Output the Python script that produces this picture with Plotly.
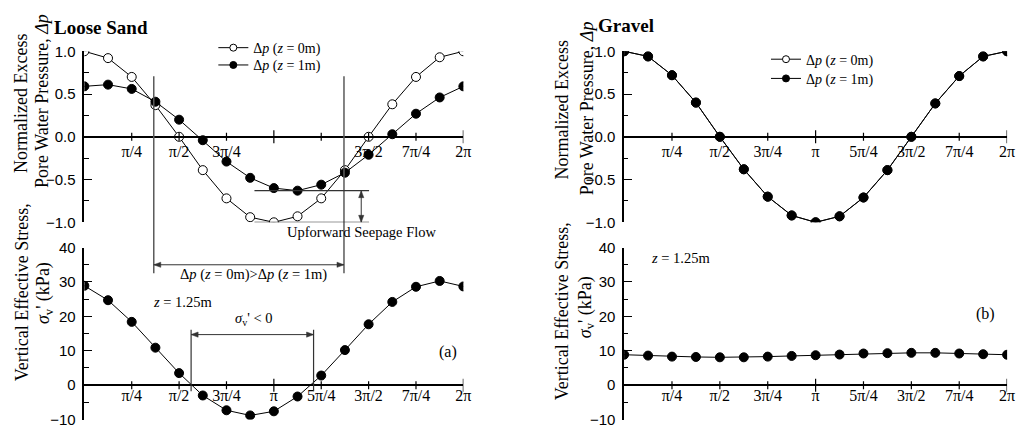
import math
import plotly.graph_objects as go

W, H = 1029, 434
PI = math.pi

# Sampling phase of the wave, in multiples of pi/8
phase_eighths = [0, 1, 2, 3, 4, 5, 6, 7, 8, 9, 10, 11, 12, 13, 14, 15, 16]

# Loose sand: normalized excess pore water pressure at z = 0 m and z = 1 m
ls_dp_z0 = [1.00, 0.92, 0.70, 0.37, 0.00, -0.39, -0.72, -0.94, -1.00, -0.93, -0.72, -0.39,
            0.00, 0.38, 0.70, 0.93, 1.00]
ls_dp_z1 = [0.59, 0.61, 0.56, 0.41, 0.20, -0.04, -0.29, -0.48, -0.60, -0.63, -0.56, -0.42,
            -0.21, 0.03, 0.27, 0.46, 0.59]
# Loose sand: vertical effective stress at z = 1.25 m (kPa)
ls_sigma = [28.9, 24.7, 18.4, 10.9, 3.5, -3.0, -7.3, -8.8, -7.6, -3.3, 2.8, 10.2,
            17.7, 24.2, 28.6, 30.3, 28.7]

# Gravel: normalized excess pore water pressure at z = 0 m and z = 1 m
gr_dp_z0 = [1.00, 0.94, 0.72, 0.40, 0.00, -0.38, -0.70, -0.92, -1.00, -0.93, -0.71, -0.39,
            0.00, 0.39, 0.71, 0.94, 1.00]
gr_dp_z1 = [1.00, 0.94, 0.72, 0.40, 0.00, -0.38, -0.70, -0.92, -1.00, -0.93, -0.71, -0.39,
            0.00, 0.39, 0.71, 0.94, 1.00]
# Gravel: vertical effective stress at z = 1.25 m (kPa)
gr_sigma = [8.85, 8.6, 8.3, 8.2, 8.1, 8.1, 8.3, 8.5, 8.7, 8.9, 9.2, 9.3,
            9.4, 9.4, 9.2, 9.0, 8.85]

# Phase ticks, in multiples of pi/4
tick_quarters = [1, 2, 3, 4, 5, 6, 7, 8]
tick_labels = ["π/4", "π/2", "3π/4", "π", "5π/4", "3π/2", "7π/4", "2π"]
# The upper loose-sand panel carries no label at π and 5π/4
top_left_quarters = [1, 2, 3, 6, 7, 8]
top_left_labels = ["π/4", "π/2", "3π/4", "3π/2", "7π/4", "2π"]

# Phase of the crossing points and of the sigma' < 0 window (rad)
cross_phase = [1.151, 4.304]
neg_sigma_phase = [1.77, 3.80]

SERIF = "Liberation Serif"
SANS = "Liberation Sans"

phase = [k * PI / 8 for k in phase_eighths]
tick_vals = [q * PI / 4 for q in tick_quarters]


def fx(px):
    return px / W


def fy(py):
    return 1 - py / H


LEFT_X = [fx(85), fx(467)]
RIGHT_X = [fx(629), fx(1015)]
TOP_Y = [fy(222), fy(44)]
BOT_Y = [fy(427.3), fy(248.3)]

top_zero = TOP_Y[0] + 0.5 * (TOP_Y[1] - TOP_Y[0])
bot_zero = BOT_Y[0] + 0.2 * (BOT_Y[1] - BOT_Y[0])


def x_axis(domain, pos, quarters, labels, standoff):
    return dict(domain=domain, range=[0, 2 * PI], anchor="free", position=pos,
                showline=True, linewidth=1.5, linecolor="black", ticks="",
                tickvals=[q * PI / 4 for q in quarters], ticktext=labels,
                ticklabelstandoff=standoff,
                tickfont=dict(family=SERIF, size=16, color="black"),
                showgrid=False, zeroline=False)


def y_axis(domain, anchor, rng, dtick, minor_dtick, fmt):
    return dict(domain=domain, anchor=anchor, range=rng, showline=True, linewidth=1.5,
                linecolor="black", ticks="inside", ticklen=8, tickwidth=1.2,
                tickcolor="black", tick0=0, dtick=dtick,
                minor=dict(dtick=minor_dtick, tick0=0, ticks="inside", ticklen=4.5,
                           tickwidth=1.2, tickcolor="black", showgrid=False),
                tickformat=fmt, tickfont=dict(family=SANS, size=15, color="black"),
                ticklabelstandoff=4, showgrid=False, zeroline=False)


def series(y, xa, ya, filled):
    return go.Scatter(x=phase, y=y, xaxis=xa, yaxis=ya, mode="lines+markers",
                      line=dict(color="black", width=1),
                      marker=dict(symbol="circle", size=9,
                                  color="black" if filled else "white",
                                  line=dict(color="black", width=1)),
                      showlegend=False, hoverinfo="skip")


def legend_entry(name, filled, xa, ya, legend):
    return go.Scatter(x=[None], y=[None], xaxis=xa, yaxis=ya, mode="lines+markers",
                      name=name, legend=legend,
                      line=dict(color="black", width=1),
                      marker=dict(symbol="circle", size=7,
                                  color="black" if filled else "white",
                                  line=dict(color="black", width=1)),
                      showlegend=True)


name_z0 = "Δ<i>p</i> (<i>z</i> = 0m)"
name_z1 = "Δ<i>p</i> (<i>z</i> = 1m)"

fig = go.Figure()
fig.add_trace(series(ls_dp_z0, "x", "y", False))
fig.add_trace(series(ls_dp_z1, "x", "y", True))
fig.add_trace(series(ls_sigma, "x2", "y2", True))
fig.add_trace(series(gr_dp_z0, "x3", "y3", False))
fig.add_trace(series(gr_dp_z1, "x3", "y3", True))
fig.add_trace(series(gr_sigma, "x4", "y4", True))
fig.add_trace(legend_entry(name_z0, False, "x", "y", "legend"))
fig.add_trace(legend_entry(name_z1, True, "x", "y", "legend2"))
fig.add_trace(legend_entry(name_z0, False, "x3", "y3", "legend3"))
fig.add_trace(legend_entry(name_z1, True, "x3", "y3", "legend4"))

shapes = []
# Cross ticks on the zero-line phase axes
for xa, ya in [("x", "y"), ("x2", "y2"), ("x3", "y3"), ("x4", "y4")]:
    for q, v in zip(tick_quarters, tick_vals):
        half = 6.5 if q % 4 == 0 else 4
        shapes.append(dict(type="line", xref=xa, yref=ya, ysizemode="pixel", yanchor=0,
                           x0=v, x1=v, y0=-half, y1=half,
                           line=dict(color="black", width=1.2)))

GUIDE = "#5a5a5a"
DARK = "#333333"
# Vertical guides through the crossing points of the two pressure curves
for xv in cross_phase:
    shapes.append(dict(type="line", xref="x", yref="paper", x0=xv, x1=xv,
                       y0=fy(275), y1=fy(70), line=dict(color=GUIDE, width=1.5)))
# Horizontal guides at the troughs of the two pressure curves
for yv in [min(ls_dp_z1), min(ls_dp_z0)]:
    shapes.append(dict(type="line", xref="x", yref="y", x0=2.82, x1=4.72, y0=yv, y1=yv,
                       line=dict(color=DARK, width=1.2)))
# Vertical guides bounding the negative effective stress window
for xv in neg_sigma_phase:
    shapes.append(dict(type="line", xref="x2", yref="y2", x0=xv, x1=xv, y0=-1.8, y1=16.1,
                       line=dict(color=DARK, width=1.2)))

# Arrowhead outlines in pixels, tip at the anchor point
HEAD = {
    "right": "M0,0 L-7,2.6 L-7,-2.6 Z",
    "left": "M0,0 L7,2.6 L7,-2.6 Z",
    "up": "M0,0 L-2.6,-7 L2.6,-7 Z",
    "down": "M0,0 L-2.6,7 L2.6,7 Z",
}


def head(x, y, xref, yref, direction):
    return dict(type="path", xref=xref, yref=yref, xsizemode="pixel", ysizemode="pixel",
                xanchor=x, yanchor=y, path=HEAD[direction], fillcolor=DARK,
                line=dict(color=DARK, width=0.5))


def double_arrow(x0, y0, x1, y1, xref, yref):
    out = [dict(type="line", xref=xref, yref=yref, x0=x0, x1=x1, y0=y0, y1=y1,
                line=dict(color=DARK, width=1))]
    if y0 == y1:
        out += [head(x0, y0, xref, yref, "left"), head(x1, y1, xref, yref, "right")]
    else:
        out += [head(x0, y0, xref, yref, "down"), head(x1, y1, xref, yref, "up")]
    return out


# Span between the crossing points
shapes += double_arrow(cross_phase[0], 35, cross_phase[1], 35, "x2", "y2")
# Gap between the two pressure troughs
shapes += double_arrow(4.59, min(ls_dp_z0), 4.59, min(ls_dp_z1), "x", "y")
# Window of negative effective stress
shapes += double_arrow(neg_sigma_phase[0], 14.7, neg_sigma_phase[1], 14.7, "x2", "y2")


def label(text, px, py, size, angle=0, bold=False, family=SERIF, xanchor="center"):
    if bold:
        text = "<b>" + text + "</b>"
    return dict(text=text, x=fx(px), y=fy(py), xref="paper", yref="paper",
                xanchor=xanchor, yanchor="middle", textangle=angle, showarrow=False,
                font=dict(family=family, size=size, color="black"))


annotations = [
    label("Loose Sand", 52, 19, 19, bold=True, xanchor="left"),
    label("Gravel", 601, 17, 19, bold=True, xanchor="left"),
    label("Normalized Excess", 21, 98, 18, angle=-90),
    label("Pore Water Pressure, <i>Δp</i>", 43, 96, 18, angle=-90),
    label("Vertical Effective Stress,", 23, 295, 18, angle=-90),
    label("<i>σ</i><sub>v</sub>' (kPa)", 45, 296, 18, angle=-90),
    label("Normalized Excess", 566, 105, 18, angle=-90),
    label("Pore Water Pressure, <i>Δp</i>", 592, 103, 18, angle=-90),
    label("Vertical Effective Stress,", 566, 315, 18, angle=-90),
    label("<i>σ</i><sub>v</sub>' (kPa)", 591, 310, 18, angle=-90),
    label("Upforward Seepage Flow", 365, 232, 14.5),
    label("Δ<i>p</i> (<i>z</i> = 0m)>Δ<i>p</i> (<i>z</i> = 1m)", 255, 276, 14.5),
    label("<i>z</i> = 1.25m", 184, 305, 14.5),
    label("<i>σ</i><sub>v</sub>' < 0", 256, 323, 14.5),
    label("(a)", 452, 357, 16),
    label("<i>z</i> = 1.25m", 686, 259, 14.5),
    label("(b)", 993, 317, 16),
]

legend_style = dict(xanchor="left", yanchor="top", bgcolor="rgba(0,0,0,0)",
                    borderwidth=0, font=dict(family=SERIF, size=14, color="black"),
                    tracegroupgap=0, itemwidth=30)

fig.update_layout(
    width=W, height=H,
    margin=dict(l=0, r=0, t=0, b=0),
    paper_bgcolor="white", plot_bgcolor="white",
    xaxis=x_axis(LEFT_X, top_zero, top_left_quarters, top_left_labels, 0),
    yaxis=y_axis(TOP_Y, "x", [-1, 1], 0.5, 0.25, ".1f"),
    xaxis2=x_axis(LEFT_X, bot_zero, tick_quarters, tick_labels, -4),
    yaxis2=y_axis(BOT_Y, "x2", [-10, 40], 10, 5, "d"),
    xaxis3=x_axis(RIGHT_X, top_zero, tick_quarters, tick_labels, 0),
    yaxis3=y_axis(TOP_Y, "x3", [-1, 1], 0.5, 0.25, ".1f"),
    xaxis4=x_axis(RIGHT_X, bot_zero, tick_quarters, tick_labels, -4),
    yaxis4=y_axis(BOT_Y, "x4", [-10, 40], 10, 5, "d"),
    legend=dict(x=fx(215), y=fy(24), **legend_style),
    legend2=dict(x=fx(215), y=fy(42), **legend_style),
    legend3=dict(x=fx(772), y=fy(36), **legend_style),
    legend4=dict(x=fx(772), y=fy(56), **legend_style),
    shapes=shapes,
    annotations=annotations,
    showlegend=True,
)

fig.write_html("out.html")
